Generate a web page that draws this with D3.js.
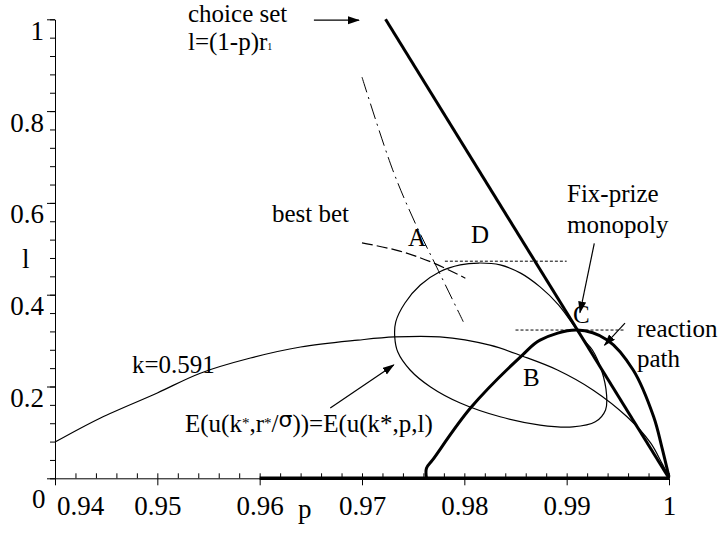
<!DOCTYPE html>
<html>
<head>
<meta charset="utf-8">
<script src="https://cdn.jsdelivr.net/npm/d3@7"></script>
<style>
  body { margin: 0; background: #fff; }
  text { font-family: "Liberation Serif", "Times New Roman", serif; fill: #000; }
</style>
</head>
<body>
<div id="container"></div>
<script>
/* CONSTANTS AND GLOBALS */
const width = 721,
  height = 539;

// tick labels
const xLabels = [0.94, 0.95, 0.96, 0.97, 0.98, 0.99, 1];
const yLabels = [0.2, 0.4, 0.6, 0.8, 1];

// choice set l=(1-p)r1
const choiceSet = [[0.9723, 1], [1, 0]];

// reaction path (thick)
const reactionPath = [
  [0.9763, 0], [0.9763, 0.022], [0.9769, 0.040], [0.9806, 0.153],
  [0.9857, 0.269], [0.9874, 0.301], [0.9910, 0.323], [0.9940, 0.301],
  [0.9965, 0.236], [0.9985, 0.134], [0.9993, 0.068], [1, 0.003]
];
const reactionBase = [[0.96, 0], [1, 0]];

// E(u(k*,r*/sigma))=E(u(k*,p,l)) loop
const loopCurve = [
  [0.9910, 0.323], [0.9892, 0.378], [0.9874, 0.417], [0.9855, 0.447],
  [0.9835, 0.465], [0.9814, 0.469], [0.9796, 0.465], [0.9776, 0.450],
  [0.9757, 0.421], [0.9742, 0.382], [0.9733, 0.341], [0.9732, 0.308],
  [0.9735, 0.275], [0.9747, 0.236], [0.9767, 0.199], [0.9796, 0.164],
  [0.9835, 0.134], [0.9874, 0.116], [0.9906, 0.112], [0.9928, 0.123],
  [0.9938, 0.149], [0.9939, 0.182], [0.9934, 0.236], [0.9925, 0.280],
  [0.9917, 0.301]
];

// k=0.591
const kCurve = [
  [0.94, 0.079], [0.9444, 0.131], [0.9500, 0.186], [0.9542, 0.229],
  [0.9591, 0.262], [0.9640, 0.286], [0.9696, 0.301], [0.9732, 0.308],
  [0.9776, 0.308], [0.9825, 0.290], [0.9857, 0.266], [0.9891, 0.236],
  [0.9926, 0.192], [0.9959, 0.134], [0.9982, 0.077], [0.9993, 0.033],
  [1, 0.003]
];

// best bet lines
const bestBetSteep = [[0.9700, 0.874], [0.9730, 0.672], [0.9752, 0.556], [0.9773, 0.460], [0.9799, 0.341]];
const bestBetFlat = [[0.9700, 0.513], [0.9737, 0.495], [0.9770, 0.469], [0.9801, 0.436]];

// dashed level lines through D and C
const levelD = [[0.9781, 0.473], [0.9900, 0.473]];
const levelC = [[0.9850, 0.323], [0.9957, 0.323]];

// annotation arrows [from, to]
const arrows = [
  [[0.9653, 0.998], [0.9697, 0.998]],
  [[0.9927, 0.512], [0.9913, 0.361]],
  [[0.9957, 0.338], [0.9937, 0.290]],
  [[0.9669, 0.153], [0.9731, 0.247]]
];

const x = d3.scaleLinear().domain([0.94, 1]).range([55, 669]);
const y = d3.scaleLinear().domain([0, 1]).range([478.3, 19.3]);

const svg = d3.select("#container")
  .append("svg")
  .attr("width", width)
  .attr("height", height)
  .style("background-color", "#fff");

svg.append("defs").append("marker")
  .attr("id", "arrow")
  .attr("markerUnits", "userSpaceOnUse")
  .attr("markerWidth", 12)
  .attr("markerHeight", 10)
  .attr("refX", 11)
  .attr("refY", 4)
  .attr("orient", "auto")
  .append("path")
  .attr("d", "M0,0 L12,4 L0,8 Z")
  .attr("fill", "#000");

/* AXES */
const fontTick = "27px";

// x minor ticks (upward)
svg.append("g")
  .attr("transform", `translate(0, ${y(0)})`)
  .call(d3.axisTop(x).tickValues(d3.range(0.94, 1.0001, 0.002)).tickSize(5).tickFormat("").tickSizeOuter(0))
  .call(g => g.select(".domain").remove());

// x major ticks + labels
svg.append("g")
  .attr("class", "x-axis")
  .attr("transform", `translate(0, ${y(0)})`)
  .call(d3.axisBottom(x).tickValues(xLabels).tickSize(7).tickSizeOuter(0)
    .tickFormat(d => d === 1 ? "1" : d3.format(".2f")(d)))
  .call(g => g.selectAll("text")
    .attr("y", 37).attr("dy", 0)
    .style("font-size", fontTick)
    .style("font-family", "Liberation Serif")
    .attr("dx", d => d === 0.94 ? 25 : 0));

// y minor ticks
svg.append("g")
  .attr("transform", `translate(${x(0.94)}, 0)`)
  .call(d3.axisLeft(y).tickValues(d3.range(0, 1.0001, 0.04)).tickSize(5).tickFormat("").tickSizeOuter(0));

// y major ticks + labels
svg.append("g")
  .attr("class", "y-axis")
  .attr("transform", `translate(${x(0.94)}, 0)`)
  .call(d3.axisLeft(y).tickValues([0].concat(yLabels)).tickSize(8).tickSizeOuter(0)
    .tickFormat(d => d === 0 ? "" : d3.format("")(d)))
  .call(g => g.select(".domain").remove())
  .call(g => g.selectAll("text")
    .attr("y", 20).attr("dy", 0)
    .style("font-size", fontTick)
    .style("font-family", "Liberation Serif"));

svg.selectAll(".tick line, .domain").attr("stroke", "#000").attr("stroke-width", 1);

/* CURVES */
const line = d3.line().x(d => x(d[0])).y(d => y(d[1]));
const smooth = d3.line().x(d => x(d[0])).y(d => y(d[1])).curve(d3.curveCatmullRom.alpha(0.5));
const closed = d3.line().x(d => x(d[0])).y(d => y(d[1])).curve(d3.curveCatmullRomClosed.alpha(0.5));

svg.append("path").attr("d", smooth(kCurve))
  .attr("fill", "none").attr("stroke", "#000").attr("stroke-width", 1.2);

svg.append("path").attr("d", closed(loopCurve))
  .attr("fill", "none").attr("stroke", "#000").attr("stroke-width", 1.2);

svg.append("path").attr("d", smooth(bestBetSteep))
  .attr("fill", "none").attr("stroke", "#000").attr("stroke-width", 1)
  .attr("stroke-dasharray", "16,5,2,5");

svg.append("path").attr("d", smooth(bestBetFlat))
  .attr("fill", "none").attr("stroke", "#000").attr("stroke-width", 1.2)
  .attr("stroke-dasharray", "11,4");

[levelD, levelC].forEach(seg => {
  svg.append("path").attr("d", line(seg))
    .attr("fill", "none").attr("stroke", "#000").attr("stroke-width", 1)
    .attr("stroke-dasharray", "3,2");
});

svg.append("path").attr("d", line(reactionBase))
  .attr("fill", "none").attr("stroke", "#000").attr("stroke-width", 3.5);

svg.append("path").attr("d", smooth(reactionPath))
  .attr("fill", "none").attr("stroke", "#000").attr("stroke-width", 3);

svg.append("path").attr("d", line(choiceSet))
  .attr("fill", "none").attr("stroke", "#000").attr("stroke-width", 3);

arrows.forEach(a => {
  svg.append("path").attr("d", line(a))
    .attr("stroke", "#000").attr("stroke-width", 1.2)
    .attr("marker-end", "url(#arrow)");
});

/* LABELS */
const labels = [
  { t: "choice set", x: 188, y: 22 },
  { t: "best bet", x: 272, y: 222 },
  { t: "A", x: 408, y: 246 },
  { t: "D", x: 471, y: 243 },
  { t: "Fix-prize", x: 567, y: 202 },
  { t: "monopoly", x: 567, y: 233 },
  { t: "C", x: 573, y: 323 },
  { t: "reaction", x: 637, y: 337 },
  { t: "path", x: 637, y: 367 },
  { t: "B", x: 523, y: 386 },
  { t: "k=0.591", x: 132, y: 373 }
];
svg.selectAll(".lbl").data(labels).join("text")
  .attr("class", "lbl")
  .attr("x", d => d.x).attr("y", d => d.y)
  .style("font-size", "25px")
  .text(d => d.t);

const choice = svg.append("text").attr("x", 188).attr("y", 50).style("font-size", "25px");
choice.append("tspan").text("l=(1-p)r");
choice.append("tspan").style("font-size", "10px").text("1");

const eq = svg.append("text").attr("x", 185).attr("y", 432).style("font-size", "25px");
eq.append("tspan").text("E(u(k");
eq.append("tspan").style("font-size", "15px").attr("dy", -4).text("*");
eq.append("tspan").attr("dy", 4).text(",r");
eq.append("tspan").style("font-size", "15px").attr("dy", -4).text("*");
eq.append("tspan").attr("dy", 4).text("/");
eq.append("tspan").style("font-family", "DejaVu Sans").style("font-size", "22px").attr("dy", -5).text("σ");
eq.append("tspan").attr("dy", 5).text("))=E(u(k*,p,l)");

// axis names and origin
svg.append("text").attr("x", 22).attr("y", 268).style("font-size", fontTick).text("l");
svg.append("text").attr("x", 298).attr("y", 518).style("font-size", fontTick).text("p");
svg.append("text").attr("x", 32).attr("y", 508).style("font-size", fontTick).text("0");
</script>
</body>
</html>
